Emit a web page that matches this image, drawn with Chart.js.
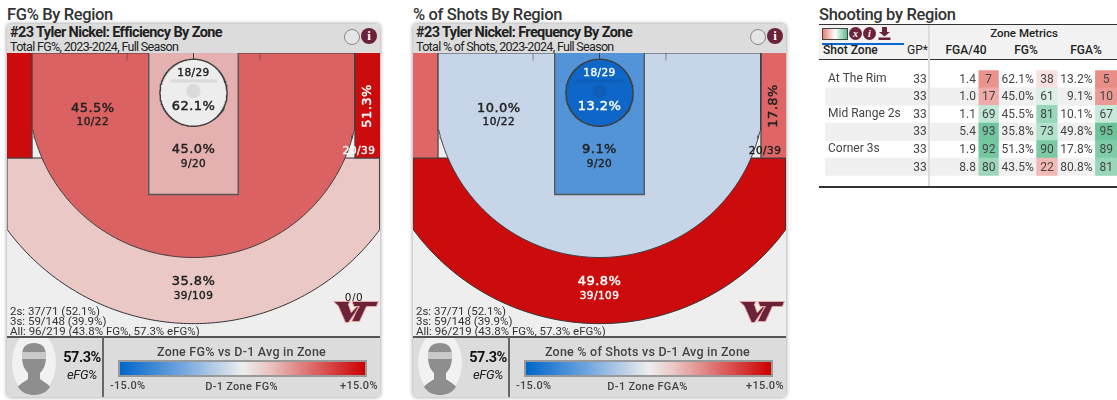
<!DOCTYPE html>
<html>
<head>
<meta charset="utf-8">
<title>Tyler Nickel shooting by region</title>
<script src="https://cdn.jsdelivr.net/npm/chart.js@4"></script>
<style>
html,body{margin:0;padding:0;background:#fff;}
body{width:1117px;height:400px;position:relative;overflow:hidden;font-family:Roboto,sans-serif;color:#222;}
.abs{position:absolute;white-space:nowrap;}
.pageTitle{top:5px;font-size:16.5px;font-weight:500;color:#333;letter-spacing:-.35px;line-height:20px;}
.panel{left:0;top:0;}
.box{background:#eee;border-radius:4px;box-shadow:0 0 4px rgba(0,0,0,.45);width:373px;height:373px;top:24px;overflow:hidden;}
.gray{background:#dcdcdc;left:0;width:373px;}
.head1{font-size:14.5px;font-weight:700;letter-spacing:-.62px;color:#222;line-height:16px;}
.head2{font-size:12.5px;letter-spacing:-.68px;color:#222;line-height:14px;}
.stats{font-size:11.5px;line-height:10px;color:#333;letter-spacing:-.02px;}
.legTitle{font-size:12.5px;font-weight:500;color:#444;letter-spacing:.22px;}
.legSmall{font-size:11px;font-weight:500;color:#444;letter-spacing:.3px;}
.colorbar{height:13px;border:2px solid #999;width:245px;background:linear-gradient(to right,#0066cc 0%,#6fa5de 25%,#c6d5e8 42%,#eeeeee 50%,#e9c8c6 60%,#db6262 80%,#cc0000 100%);}
th,td{padding:0;}
.tblHead{font-size:12px;color:#222;font-weight:500;}
</style>
</head>
<body>
<script>
// values
const zoneNames = ['At The Rim', 'In The Paint', 'Mid Range 2s', 'Above Break 3s', 'Corner 3s'];
const zoneMade = [18, 9, 10, 39, 20];
const zoneAttempts = [29, 20, 22, 109, 39];
const zoneFgPct = [62.1, 45.0, 45.5, 35.8, 51.3];
const zoneShotPct = [13.2, 9.1, 10.0, 49.8, 17.8];

const statLines = ['2s: 37/71 (52.1%)', '3s: 59/148 (39.9%)', 'All: 96/219 (43.8% FG%, 57.3% eFG%)'];

const tableZones = ['At The Rim', 'In The Paint', 'Mid Range 2s', 'Above Break 3s', 'Corner 3s', 'At Rim + 3s'];
const tableGp = [33, 33, 33, 33, 33, 33];
const tableFga40 = [1.4, 1.0, 1.1, 5.4, 1.9, 8.8];
const tableFga40Rank = [7, 17, 69, 93, 92, 80];
const tableFg = [62.1, 45.0, 45.5, 35.8, 51.3, 43.5];
const tableFgRank = [38, 61, 81, 73, 90, 22];
const tableFga = [13.2, 9.1, 10.1, 49.8, 17.8, 80.8];
const tableFgaRank = [5, 10, 67, 95, 89, 81];

// colours of the zones, in zoneNames order
const fgColors = ['#ededed', '#e5b0b0', '#db6262', '#e9c8c6', '#cc0c0c'];
const fgInk = ['#222', '#222', '#222', '#222', '#fff'];
const freqColors = ['#0e67c8', '#5394d8', '#c6d5e8', '#cc0c0c', '#df6666'];
const freqInk = ['#fff', '#222', '#222', '#fff', '#222'];

// court geometry in feet, the basket end is at the top
const rimY = 5.34;
const threeR = 22.12, cornerX = 21.64, cornerBreakY = 9.95, cornerEndY = 14.1;
const outerR = 31, rimZoneR = 4.5, paintHalf = 6, paintEnd = 19;

function arc(r, fromDeg, toDeg, cy) {
    const pts = [];
    const steps = Math.max(24, Math.abs(toDeg - fromDeg) | 0);
    for (let i = 0; i <= steps; i++) {
        const a = (fromDeg + (toDeg - fromDeg) * i / steps) * Math.PI / 180;
        pts.push({x: r * Math.cos(a), y: cy + r * Math.sin(a)});
    }
    return pts;
}

function box(x0, y0, x1, y1) {
    return [{x: x0, y: y0}, {x: x1, y: y0}, {x: x1, y: y1}, {x: x0, y: y1}, {x: x0, y: y0}];
}

function zoneShapes() {
    const breakDeg = Math.asin((cornerBreakY - rimY) / threeR) * 180 / Math.PI;
    const edgeDeg = Math.acos(25 / outerR) * 180 / Math.PI;
    const mid = [{x: -cornerX, y: 0}, {x: cornerX, y: 0}].concat(arc(threeR, breakDeg, 180 - breakDeg, rimY));
    mid.push({x: -cornerX, y: 0});
    const above = [{x: -25, y: cornerEndY}, {x: 25, y: cornerEndY}].concat(arc(outerR, edgeDeg, 180 - edgeDeg, rimY));
    above.push({x: -25, y: cornerEndY});
    return {
        rim: arc(rimZoneR, 0, 360, rimY),
        paint: box(-paintHalf, -0.2, paintHalf, paintEnd),
        mid: mid,
        above: above,
        cornerL: box(-25.2, -0.2, -cornerX, cornerEndY),
        cornerR: box(cornerX, -0.2, 25.2, cornerEndY)
    };
}

function zoneSet(points, color, line, width) {
    return {
        data: points, showLine: true, fill: 'shape', tension: 0,
        backgroundColor: color, borderColor: line, borderWidth: width,
        pointRadius: 0, pointHoverRadius: 0
    };
}

function markSet(points, color, width) {
    return {data: points, showLine: true, fill: false, borderColor: color, borderWidth: width, pointRadius: 0};
}

// where each zone prints its numbers, feet
const pctSpots = [[0, 7.2], [0, 13], [-13.5, 7.46], [0, 30.7], [23.3, 7.1]];
const countSpots = [[0, 2.75], [0, 14.9], [-13.5, 9.35], [0, 32.6], [22.2, 13.25]];

const courtText = {
    id: 'courtText',
    afterDatasetsDraw(chart, args, opts) {
        const c = chart.ctx, sx = chart.scales.x, sy = chart.scales.y;
        c.save();
        c.textAlign = 'center';
        c.textBaseline = 'middle';
        c.letterSpacing = '0.45px';
        opts.pcts.forEach((v, i) => {
            const px = sx.getPixelForValue(pctSpots[i][0]), py = sy.getPixelForValue(pctSpots[i][1]);
            c.save();
            c.translate(px, py);
            if (i === 4) c.rotate(-Math.PI / 2);
            c.font = '13px "DejaVu Sans"';
            c.fillStyle = opts.ink[i];
            c.strokeStyle = opts.ink[i];
            c.lineWidth = 0.45;
            const txt = v.toFixed(1) + '%';
            c.fillText(txt, 0, 0);
            c.strokeText(txt, 0, 0);
            c.restore();
            c.font = '10.5px "DejaVu Sans"';
            c.fillStyle = opts.ink[i];
            c.strokeStyle = opts.ink[i];
            c.lineWidth = 0.4;
            const cnt = zoneMade[i] + '/' + zoneAttempts[i];
            const cx = sx.getPixelForValue(countSpots[i][0]), cy = sy.getPixelForValue(countSpots[i][1]);
            c.fillText(cnt, cx, cy);
            c.strokeText(cnt, cx, cy);
        });
        if (opts.extra) {
            c.font = '10.5px "DejaVu Sans"';
            c.fillStyle = '#111';
            c.fillText(opts.extra, sx.getPixelForValue(21.5), sy.getPixelForValue(33));
        }
        c.restore();
    }
};

function addEl(parent, cls, css, text) {
    const d = document.createElement('div');
    d.className = 'abs ' + cls;
    d.style.cssText = css;
    if (text !== undefined) d.textContent = text;
    parent.appendChild(d);
    return d;
}

const LOGO = '<svg width="46" height="24" viewBox="0 0 46 24"><path d="M0.6 1.5H17L15.4 4.4L18.2 12.5L24 6.5H26.5L15.5 22.5H12.5L5.2 5.8Z M19 1.5H45.4L43.4 6.5H33.4L26.5 21.5H18.7L25.6 6.5H21Z" fill="#6a2338" stroke="#e8a8a2" stroke-width="1"/></svg>';
const FACE = '<svg width="44" height="57" viewBox="0 0 44 57"><ellipse cx="22" cy="25" rx="22" ry="32" fill="#f1f1f1"/><path d="M10 18C10 8 15 5 22 5C29 5 34 8 34 18C34 26 32 31 28 35V41C31 44 37 46 38 49C34 55 28 57 22 57C16 57 10 55 6 49C7 46 13 44 16 41V35C12 31 10 26 10 18Z" fill="#8e8e8e"/><rect x="10" y="14" width="24" height="7" fill="#c9c9c9"/></svg>';

function buildPanel(o) {
    const dx = o.dx;
    addEl(document.body, 'pageTitle', 'left:' + (dx + 7) + 'px;', o.pageTitle);
    const b = addEl(document.body, 'box', 'left:' + (dx + 7) + 'px;');
    addEl(b, 'gray', 'top:0;height:29px;');
    addEl(b, 'head1', 'left:3px;top:1px;', o.head);
    addEl(b, 'head2', 'left:3px;top:16px;', o.sub);
    addEl(b, '', 'left:337px;top:5px;width:14px;height:14px;border:1px solid #888;border-radius:50%;background:#e6e6e6;');
    addEl(b, '', 'left:354px;top:4px;width:16px;height:16px;border-radius:50%;background:#6a2338;color:#fff;font:bold 13px/16px "Liberation Serif";text-align:center;', 'i');

    const cv = document.createElement('canvas');
    cv.width = 373; cv.height = 283;
    cv.style.cssText = 'position:absolute;left:0;top:29px;width:373px;height:283px;';
    b.appendChild(cv);

    const sh = zoneShapes();
    const c = o.colors;
    const line = '#3f3f3f';
    const faint = 'rgba(0,0,0,.08)';
    const datasets = [
        markSet(box(-3, 3.7, 3, 3.8), faint, 2.5),
        zoneSet(arc(0.95, 0, 360, 5.1), faint, 'transparent', 0),
        zoneSet(sh.rim, c[0], line, 1.4),
        markSet([{x: 0, y: 0}, {x: 0, y: 0.8}], 'rgba(60,60,60,.7)', 1),
        markSet([{x: -8.9, y: 0}, {x: -8.9, y: 1}], 'rgba(60,60,60,.18)', 1),
        markSet([{x: 8.9, y: 0}, {x: 8.9, y: 1}], 'rgba(60,60,60,.18)', 1),
        zoneSet(sh.paint, c[1], '#555', 1.4),
        zoneSet(sh.mid, c[2], line, 1),
        zoneSet(sh.cornerL, c[4], '#444', 1.2),
        zoneSet(sh.cornerR, c[4], '#444', 1.2),
        zoneSet(sh.above, c[3], '#333', 1)
    ];
    new Chart(cv, {
        type: 'scatter',
        data: {datasets: datasets},
        plugins: [courtText],
        options: {
            responsive: false, animation: false, events: [],
            layout: {padding: 0},
            scales: {
                x: {type: 'linear', display: false, min: -25, max: 25},
                y: {type: 'linear', display: false, min: 0, max: 38, reverse: true}
            },
            plugins: {
                legend: {display: false}, tooltip: {enabled: false},
                courtText: {pcts: o.pcts, ink: o.ink, extra: o.extra}
            }
        }
    });

    statLines.forEach((s, i) => addEl(b, 'stats', 'left:3px;top:' + (282 + i * 9.6 + (i === 2 ? 1 : 0)) + 'px;', s));
    const lg = addEl(b, '', 'left:326px;top:276px;');
    lg.innerHTML = LOGO;

    addEl(b, 'gray', 'top:312px;height:61px;border-top:2px solid #555;box-sizing:border-box;');
    addEl(b, '', 'left:95px;top:313px;width:1.5px;height:60px;background:#666;');
    const fc = addEl(b, '', 'left:5px;top:314px;');
    fc.innerHTML = FACE;
    addEl(b, '', 'left:55px;top:325px;width:40px;text-align:center;font-size:14.5px;font-weight:700;color:#111;letter-spacing:-.5px;', '57.3%');
    addEl(b, '', 'left:55px;top:343px;width:40px;text-align:center;font-size:13px;font-style:italic;color:#222;letter-spacing:-.4px;', 'eFG%');
    addEl(b, 'legTitle', 'left:96px;width:277px;top:320px;text-align:center;', o.legend);
    addEl(b, 'colorbar', 'left:111px;top:336px;');
    addEl(b, 'legSmall', 'left:103px;top:355px;', '-15.0%');
    addEl(b, 'legSmall', 'left:96px;width:277px;top:356px;text-align:center;', o.axis);
    addEl(b, 'legSmall', 'left:333px;top:355px;', '+15.0%');
}

buildPanel({dx: 0, pageTitle: 'FG% By Region', head: '#23 Tyler Nickel: Efficiency By Zone', sub: 'Total FG%, 2023-2024, Full Season',
    colors: fgColors, ink: fgInk, pcts: zoneFgPct, extra: '0/0', legend: 'Zone FG% vs D-1 Avg in Zone', axis: 'D-1 Zone FG%'});
buildPanel({dx: 406, pageTitle: '% of Shots By Region', head: '#23 Tyler Nickel: Frequency By Zone', sub: 'Total % of Shots, 2023-2024, Full Season',
    colors: freqColors, ink: freqInk, pcts: zoneShotPct, extra: null, legend: 'Zone % of Shots vs D-1 Avg in Zone', axis: 'D-1 Zone FGA%'});

// table on the right
addEl(document.body, 'pageTitle', 'left:819px;', 'Shooting by Region');
addEl(document.body, '', 'left:819px;top:24px;width:298px;height:36px;background:#f2f2f2;border-top:1.5px solid #333;border-bottom:1.5px solid #333;box-sizing:border-box;');
const ic = addEl(document.body, '', 'left:822px;top:27px;');
ic.innerHTML = '<div style="position:absolute;left:0;top:1px;width:24px;height:10px;border:1px solid #444;background:linear-gradient(to right,#e8807a,#fff 50%,#5abd8f);"></div>' +
    '<div style="position:absolute;left:27px;top:0;width:13px;height:13px;border-radius:50%;background:#6a2338;color:#fff;font:italic bold 10px/13px \'Liberation Serif\';text-align:center;">x</div>' +
    '<div style="position:absolute;left:41px;top:0;width:13px;height:13px;border-radius:50%;background:#6a2338;color:#fff;font:italic bold 10px/13px \'Liberation Serif\';text-align:center;">i</div>' +
    '<svg style="position:absolute;left:56px;top:0;" width="13" height="13" viewBox="0 0 13 13"><path d="M4 0H9V5H12L6.5 9.5L1 5H4Z M0.5 10.5H12.5V13H0.5Z" fill="#6a2338"/></svg>';
addEl(document.body, '', 'left:822px;top:43px;width:82px;height:2px;background:#0a66c8;');
addEl(document.body, 'tblHead', 'left:823px;top:43px;', 'Shot Zone');
addEl(document.body, 'tblHead', 'left:907px;top:43px;font-weight:400;', 'GP*');
addEl(document.body, 'tblHead', 'left:931px;width:186px;top:26px;text-align:center;font-size:11.5px;', 'Zone Metrics');
addEl(document.body, 'tblHead', 'left:936px;width:60px;top:43px;text-align:center;', 'FGA/40');
addEl(document.body, 'tblHead', 'left:996px;width:60px;top:43px;text-align:center;', 'FG%');
addEl(document.body, 'tblHead', 'left:1056px;width:60px;top:43px;text-align:center;', 'FGA%');

const cvT = document.createElement('canvas');
cvT.width = 298; cvT.height = 126;
cvT.style.cssText = 'position:absolute;left:819px;top:60px;width:298px;height:126px;';
document.body.appendChild(cvT);
addEl(document.body, '', 'left:819px;top:186px;width:298px;height:1.5px;background:#333;');
addEl(document.body, '', 'left:928px;top:25px;width:2px;height:161px;background:#dcdcdc;');

function heat(rank) {
    const low = [230, 128, 122], high = [90, 189, 143];
    const t = Math.abs(rank - 50) / 50;
    const to = rank < 50 ? low : high;
    return 'rgb(' + to.map(v => Math.round(255 + (v - 255) * t)).join(',') + ')';
}

// column layout in table pixels
const heatCols = [[157, 177], [216, 237], [276, 298]];

function heatSet(col, ranks) {
    return {
        data: ranks.map(() => heatCols[col]),
        backgroundColor: ranks.map(heat),
        barPercentage: 1, categoryPercentage: 1, grouped: false, borderWidth: 0
    };
}

const tableText = {
    id: 'tableText',
    afterDatasetsDraw(chart) {
        const c = chart.ctx, sx = chart.scales.x, sy = chart.scales.y;
        c.save();
        c.font = '12px Roboto';
        c.fillStyle = '#444';
        c.textBaseline = 'middle';
        const cell = (txt, x, i, align) => {
            c.textAlign = align;
            c.fillText(txt, sx.getPixelForValue(x), sy.getPixelForValue(i) + 0.5);
        };
        tableZones.forEach((z, i) => {
            cell(String(tableGp[i]), 97, i, 'center');
            cell(tableFga40[i].toFixed(1), 154, i, 'right');
            cell(String(tableFga40Rank[i]), 167, i, 'center');
            cell(tableFg[i].toFixed(1) + '%', 213, i, 'right');
            cell(String(tableFgRank[i]), 226.5, i, 'center');
            cell(tableFga[i].toFixed(1) + '%', 273, i, 'right');
            cell(String(tableFgaRank[i]), 287, i, 'center');
        });
        c.restore();
    }
};

new Chart(cvT, {
    type: 'bar',
    data: {
        labels: tableZones,
        datasets: [
            heatSet(0, tableFga40Rank),
            heatSet(1, tableFgRank),
            heatSet(2, tableFgaRank),
            {data: tableZones.map((z, i) => i % 2 ? [0, 298] : null), backgroundColor: '#f0f0f0',
                barPercentage: 1, categoryPercentage: 1, grouped: false, borderWidth: 0}
        ]
    },
    plugins: [tableText],
    options: {
        indexAxis: 'y', responsive: false, animation: false, events: [],
        layout: {padding: 0},
        scales: {
            x: {type: 'linear', display: false, min: 0, max: 298},
            y: {
                type: 'category', position: 'left', display: true,
                grid: {display: false, drawTicks: false}, border: {display: false},
                ticks: {mirror: true, padding: 3, color: '#444', autoSkip: false, font: {family: 'Roboto', size: 12}}
            }
        },
        plugins: {legend: {display: false}, tooltip: {enabled: false}}
    }
});
</script>
</body>
</html>
